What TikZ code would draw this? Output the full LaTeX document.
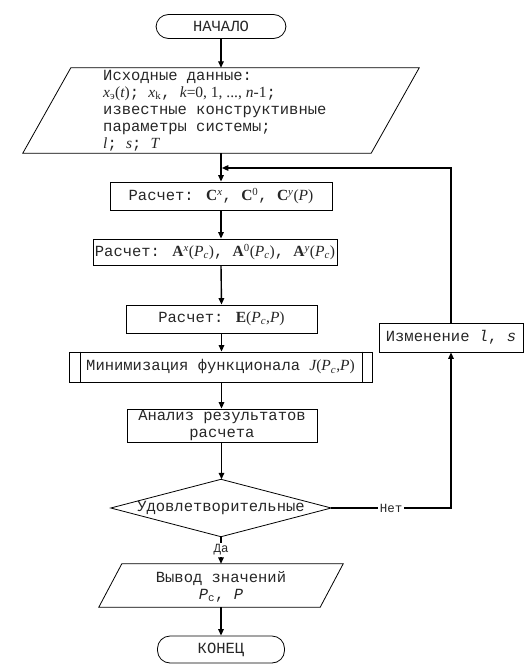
\documentclass[tikz,border=0pt]{standalone}
\usepackage{fontspec}
\setmainfont{Liberation Mono}[WordSpace={1,0,0}]
\newfontfamily\tmfont{Liberation Serif}
\usetikzlibrary{arrows.meta,calc}
\newcommand\mi[1]{{\tmfont\itshape #1}}
\newcommand\mb[1]{{\tmfont\bfseries #1}}
\newcommand\mr[1]{{\tmfont #1}}
\newcommand\msub[1]{\textsubscript{#1}}
\newcommand\msup[1]{\textsuperscript{#1}}
\begin{document}
\begin{tikzpicture}[x=1pt,y=-1pt,
  every node/.style={font=\fontsize{15.5}{17}\selectfont, text=black!85},
  outline/.style={draw=black, line width=0.8pt},
  box/.style={outline, rectangle, inner sep=0pt},
  term/.style={outline, rectangle, rounded corners=12.5pt, inner sep=0pt},
  ghost/.style={rectangle, inner sep=0pt},
  conn/.style={draw=black, line width=1.4pt, -{Triangle[length=6.5pt,width=5.5pt]}},
  plain/.style={draw=black, line width=1.4pt},
  lbl/.style={fill=white, inner sep=1.5pt, font=\fontsize{12.5}{14}\selectfont}
]
\useasboundingbox (0,0) rectangle (530,669);

% nodes
\node[term, minimum width=130pt, minimum height=24pt] (start) at (221,26.5) {НАЧАЛО};
\node[ghost, minimum width=396pt, minimum height=85pt] (in) at (221,110.5) {};
\draw[outline] ([xshift=48pt]in.north west) -- (in.north east) -- ([xshift=-48pt]in.south east) -- (in.south west) -- cycle;
\node[anchor=north west, align=left, inner sep=0pt] (intext) at (103,70)
 {Исходные данные:\\
  \mi{x}\msub{\mr{э}}\mr{(}\mi{t}\mr{)}; \mi{x}\msub{\mr{k}}, \mi{k}\mr{=0, 1, ..., }\mi{n}\mr{-1};\\
  известные конструктивные\\
  параметры системы;\\
  \mi{l}; \mi{s}; \mi{T}};

\coordinate (j) at (221,168);
\node[box, minimum width=222pt, minimum height=28pt] (b1) at (221,196)
 {Расчет: \mb{C}\msup{\mi{x}}, \mb{C}\msup{\mr{0}}, \mb{C}\msup{\mi{y}}\mr{(}\mi{P}\mr{)}};
\node[box, minimum width=244pt, minimum height=26pt] (b2) at (215,252)
 {Расчет: \mb{A}\msup{\mi{x}}\mr{(}\mi{P}\msub{\mi{c}}\mr{)}, \mb{A}\msup{\mr{0}}\mr{(}\mi{P}\msub{\mi{c}}\mr{)}, \mb{A}\msup{\mi{y}}\mr{(}\mi{P}\msub{\mi{c}}\mr{)}};
\node[box, minimum width=191pt, minimum height=28pt] (b3) at (221.5,319)
 {Расчет: \mb{E}\mr{(}\mi{P}\msub{\mi{c}}\mr{,}\mi{P}\mr{)}};
\node[box, minimum width=303pt, minimum height=30pt] (pp) at (220.5,367)
 {Минимизация функционала \mi{J}\mr{(}\mi{P}\msub{\mi{c}}\mr{,}\mi{P}\mr{)}};
\draw[outline] ([xshift=12pt]pp.north west) -- ([xshift=12pt]pp.south west);
\draw[outline] ([xshift=-10pt]pp.north east) -- ([xshift=-10pt]pp.south east);
\node[box, minimum width=190pt, minimum height=33pt, align=center] (an) at (222,425.5)
 {Анализ результатов\\расчета};
\node[ghost, minimum width=220pt, minimum height=57pt] (dec) at (221,508) {Удовлетворительные};
\draw[outline] (dec.west) -- (dec.north) -- (dec.east) -- (dec.south) -- cycle;
\node[box, minimum width=144pt, minimum height=29pt] (izm) at (451,337.5)
 {Изменение {\itshape l}, {\itshape s}};
\node[ghost, minimum width=244pt, minimum height=43pt] (out) at (221,585.5) {};
\draw[outline] ([xshift=23pt]out.north west) -- (out.north east) -- ([xshift=-23pt]out.south east) -- (out.south west) -- cycle;
\node[align=center, inner sep=0pt] (outtext) at (221,587)
 {Вывод значений\\{\itshape P}\textsubscript{c}, {\itshape P}};
\node[term, minimum width=127pt, minimum height=27pt] (end) at (221,649.5) {КОНЕЦ};

% connectors
\draw[conn] (start.south) -- (in.north);
\draw[conn] (in.south) -- (b1.north);
\draw[conn] (b1.south) -- (b1.south |- b2.north);
\draw[conn] (b1.south |- b2.south) -- (b3.north);
\draw[conn] (b3.south) -- (b3.south |- pp.north);
\draw[conn] (b3.south |- pp.south) -- (b3.south |- an.north);
\draw[conn] (b3.south |- an.south) -- (b3.south |- dec.north);
\draw[conn] (dec.south) -- (out.north) node[lbl, pos=0.48] (da) {Да};
\draw[conn] (out.south) -- (end.north);
\draw[conn] (dec.east) -| (izm.south) node[lbl, pos=0.25] (net) {Нет};
\draw[conn] (izm.north) |- ([xshift=0.8pt]j);
\end{tikzpicture}
\end{document}
